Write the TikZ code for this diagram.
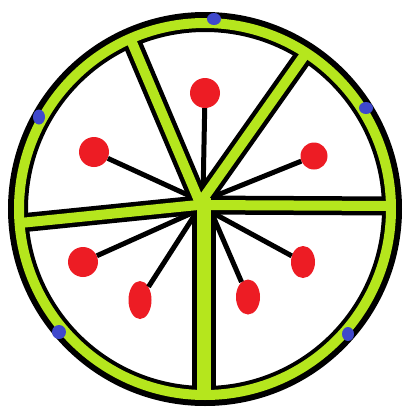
\documentclass[tikz,border=0pt]{standalone}
\usetikzlibrary{shapes.geometric}
\definecolor{lime}{RGB}{181,230,29}
\definecolor{pred}{RGB}{237,28,36}
\definecolor{pblue}{RGB}{63,72,204}
\begin{document}
\begin{tikzpicture}[x=1pt,y=-1pt,
 dotr/.style={ellipse,fill=pred,inner sep=0pt},
 dotb/.style={ellipse,fill=pblue,inner sep=0pt,minimum width=14pt,minimum height=12pt},
 stem/.style={line width=5pt,black},
 bandblack/.style={line width=19pt,black},
 bandgreen/.style={line width=10pt,lime},
 wideblack/.style={line width=24pt,black},
 widegreen/.style={line width=14pt,lime}]
\useasboundingbox[fill=white] (0,0) rectangle (405,408);
\coordinate (O) at (205,209);
% spoke coordinates
\coordinate (j) at (200,203);
\coordinate (jh) at (198,205);
\coordinate (jv) at (204,198);
\coordinate (t1) at (131,40);
\coordinate (t2) at (306,53);
\coordinate (t3) at (20,223);
\coordinate (t4) at (391,206);
\coordinate (t5) at (204,394);
% stem inner ends
\coordinate (c1) at (203,196);
\coordinate (c2) at (190,196);
\coordinate (c3) at (210,198);
\coordinate (c4) at (192,213);
\coordinate (c5) at (194,216);
\coordinate (c6) at (213,216);
\coordinate (c7) at (213,213);
% red dots
\node[dotr,minimum width=30pt,minimum height=30pt] (r1) at (205,93) {};
\node[dotr,minimum width=30pt,minimum height=30pt] (r2) at (94,152) {};
\node[dotr,minimum width=27pt,minimum height=27pt] (r3) at (314,156) {};
\node[dotr,minimum width=30pt,minimum height=30pt] (r4) at (83,262) {};
\node[dotr,minimum width=23pt,minimum height=38pt] (r5) at (140,300) {};
\node[dotr,minimum width=24pt,minimum height=35pt] (r6) at (248,297) {};
\node[dotr,minimum width=24pt,minimum height=32pt] (r7) at (303,262) {};
% stems
\draw[stem] (c1) -- (r1);
\draw[stem] (c2) -- (r2);
\draw[stem] (c3) -- (r3);
\draw[stem] (c4) -- (r4);
\draw[stem] (c5) -- (r5);
\draw[stem] (c6) -- (r6);
\draw[stem] (c7) -- (r7);
% black borders
\draw[line width=20pt,black] (O) circle[radius=187];
\draw[bandblack] (j) -- (t1);
\draw[bandblack] (j) -- (t2);
\draw[bandblack] (jh) -- (t3);
\draw[bandblack] (jh) -- (t4);
\draw[wideblack] (jv) -- (t5);
\fill[black] (j) circle[radius=10];
% green
\draw[line width=10pt,lime] (O) circle[radius=186];
\draw[bandgreen] (j) -- (t1);
\draw[bandgreen] (j) -- (t2);
\draw[bandgreen] (jh) -- (t3);
\draw[bandgreen] (jh) -- (t4);
\draw[widegreen] (jv) -- (t5);
\fill[lime] (j) circle[radius=5.5];
% blue dots
\node[dotb] (b1) at (214,19) {};
\node[dotb] (b2) at (366,108) {};
\node[dotb,minimum width=12pt,minimum height=15pt] (b3) at (39,117) {};
\node[dotb,minimum width=14pt,minimum height=14pt] (b4) at (59,332) {};
\node[dotb,minimum width=12pt,minimum height=14pt] (b5) at (348,334) {};
\end{tikzpicture}
\end{document}
